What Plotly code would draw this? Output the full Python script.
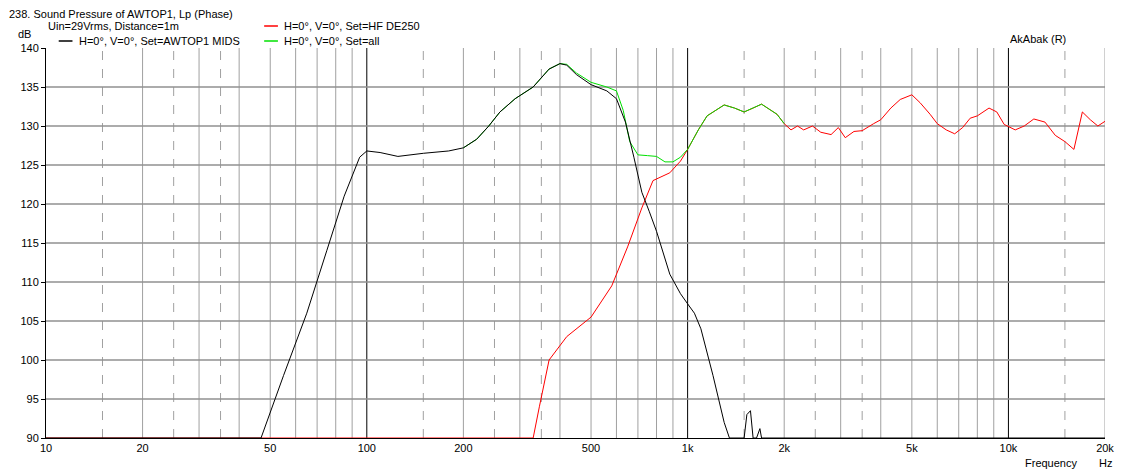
import plotly.graph_objects as go

mids_f = [10, 46.8, 55, 65, 75, 85, 95, 100, 110, 125, 150, 180, 200, 220, 240, 260, 290, 330, 370, 400, 420, 450, 500, 560, 600, 640, 680, 720, 760, 800, 880, 950, 1000, 1050, 1100, 1200, 1300, 1350, 1500, 1530, 1570, 1600, 1640, 1680, 1700, 1720, 1760, 20000]
mids_db = [90, 90, 98, 106, 114, 121, 126, 126.8, 126.6, 126.1, 126.5, 126.8, 127.2, 128.3, 130, 131.8, 133.5, 135, 137.3, 138, 137.8, 136.6, 135.3, 134.5, 133.5, 130.5, 126, 121.5, 119, 116.5, 111, 108.5, 107.2, 106, 104, 98, 92, 90, 90, 93, 93.5, 90, 90, 91.2, 90, 90, 90, 90]

hf_f = [10, 330, 345, 370, 420, 500, 580, 650, 720, 780, 880, 950, 1000, 1080, 1150, 1300, 1400, 1500, 1600, 1700, 1900, 2000, 2100, 2200, 2300, 2450, 2600, 2800, 2950, 3100, 3300, 3500, 3800, 4000, 4300, 4600, 5000, 5300, 5700, 6000, 6400, 6800, 7200, 7600, 8000, 8700, 9200, 9700, 10500, 11200, 12000, 13000, 14000, 15000, 16000, 17000, 18000, 19000, 20000]
hf_db = [90, 90, 94, 100, 103, 105.5, 109.5, 114.5, 119.5, 123, 124, 125.5, 127, 129.5, 131.3, 132.7, 132.3, 131.8, 132.3, 132.8, 131.5, 130.3, 129.5, 130, 129.5, 130, 129.2, 128.9, 129.8, 128.5, 129.3, 129.4, 130.3, 130.8, 132.3, 133.4, 134, 133, 131.5, 130.3, 129.5, 129, 129.8, 131, 131.3, 132.3, 131.8, 130.2, 129.5, 130, 130.9, 130.5, 128.8, 128, 127, 131.8, 130.8, 130, 130.6]

all_f = [200, 220, 240, 260, 290, 330, 370, 400, 420, 450, 500, 560, 600, 630, 660, 700, 750, 800, 850, 900, 950, 1000, 1080, 1150, 1300, 1400, 1500, 1600, 1700, 1900, 2000]
all_db = [127.2, 128.3, 130, 131.8, 133.5, 135, 137.3, 138, 137.9, 136.8, 135.6, 135, 134.5, 132, 128, 126.3, 126.2, 126.1, 125.4, 125.4, 126, 127, 129.5, 131.3, 132.7, 132.3, 131.8, 132.3, 132.8, 131.5, 130.3]

tick_vals = [10, 20, 50, 100, 200, 500, 1000, 2000, 5000, 10000, 20000]
tick_text = ["10", "20", "50", "100", "200", "500", "1k", "2k", "5k", "10k", "20k"]
y_ticks = [90, 95, 100, 105, 110, 115, 120, 125, 130, 135, 140]

fig = go.Figure()
fig.add_trace(go.Scatter(x=hf_f, y=hf_db, mode="lines", line=dict(color="#ff0000", width=1)))
fig.add_trace(go.Scatter(x=all_f, y=all_db, mode="lines", line=dict(color="#00e000", width=1)))
fig.add_trace(go.Scatter(x=mids_f, y=mids_db, mode="lines", line=dict(color="#000000", width=1)))

def vline(f, col, dash):
    return dict(type="line", xref="x", yref="paper", x0=f, x1=f, y0=0, y1=1,
                line=dict(color=col, width=1, dash=dash), layer="below")

shapes = []
for d in [10, 100, 1000, 10000]:
    for m in range(1, 10):
        f = d * m
        if f > 20000 or f == 10:
            continue
        shapes.append(vline(f, "#000000" if m == 1 else "#a0a0a0", "solid"))
    for h in [1.5, 2.5, 3.5]:
        if d * h < 20000:
            shapes.append(vline(d * h, "#a0a0a0", "dash"))
for yv in y_ticks[1:-1]:
    shapes.append(dict(type="line", xref="paper", yref="y", x0=0, x1=1, y0=yv, y1=yv,
                       line=dict(color="#909090", width=1.5), layer="below"))
PH = 390.0
def py(px_above):
    return 1 + px_above / PH
shapes.append(dict(type="line", xref="paper", yref="paper", x0=0.012, x1=0.025, y0=py(7), y1=py(7), line=dict(color="black", width=1.5)))
shapes.append(dict(type="line", xref="paper", yref="paper", x0=0.206, x1=0.219, y0=py(22), y1=py(22), line=dict(color="red", width=1.5)))
shapes.append(dict(type="line", xref="paper", yref="paper", x0=0.206, x1=0.219, y0=py(7), y1=py(7), line=dict(color="#00e000", width=1.5)))

F = dict(family="Liberation Sans, Arial", size=11, color="black")
ann = [
    dict(text="238. Sound Pressure of AWTOP1, Lp (Phase)", x=-0.037, y=py(34), xanchor="left", yanchor="middle"),
    dict(text="Uin=29Vrms, Distance=1m", x=0.0, y=py(22), xanchor="left", yanchor="middle"),
    dict(text="H=0°, V=0°, Set=AWTOP1 MIDS", x=0.029, y=py(7), xanchor="left", yanchor="middle"),
    dict(text="H=0°, V=0°, Set=HF DE250", x=0.223, y=py(22), xanchor="left", yanchor="middle"),
    dict(text="H=0°, V=0°, Set=all", x=0.223, y=py(7), xanchor="left", yanchor="middle"),
    dict(text="dB", x=-0.012, y=py(14), xanchor="right", yanchor="middle"),
    dict(text="AkAbak (R)", x=0.965, y=py(9), xanchor="right", yanchor="middle"),
    dict(text="Frequency", x=0.975, y=-25 / PH, xanchor="right", yanchor="middle"),
    dict(text="Hz", x=1.0, y=-25 / PH, xanchor="center", yanchor="middle"),
]
fig.update_layout(
    width=1130, height=476, showlegend=False,
    margin=dict(l=36, r=33, t=40, b=46),
    paper_bgcolor="white", plot_bgcolor="white",
    font=F, shapes=shapes,
    annotations=[dict(a, xref="paper", yref="paper", showarrow=False, font=F) for a in ann],
    xaxis=dict(type="log", range=[1, 4.30103], tickvals=tick_vals, ticktext=tick_text, showgrid=False,
               showline=True, linecolor="black", ticks="", zeroline=False),
    yaxis=dict(range=[90, 140], tickvals=y_ticks, showgrid=False, showline=True, linecolor="black",
               ticks="outside", ticklen=4, tickcolor="black", zeroline=False),
)
fig.write_html("out.html")
